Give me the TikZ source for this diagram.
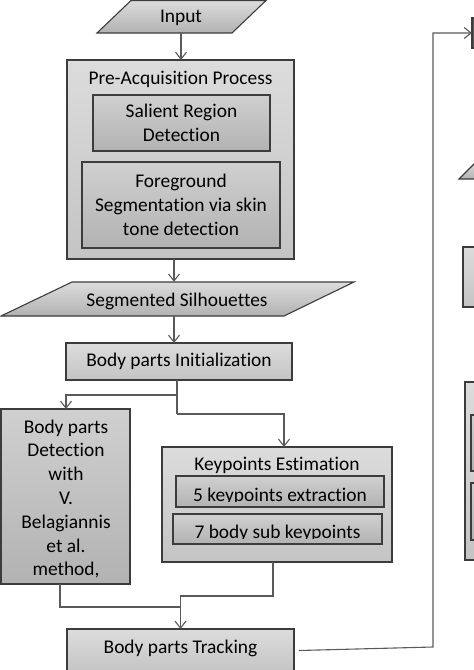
\documentclass[tikz,border=0pt]{standalone}
\usepackage{fontspec}
\setmainfont{Carlito}[Ligatures=NoCommon]
\usetikzlibrary{arrows.meta}
\definecolor{bordc}{HTML}{3C3C3C}
\definecolor{connc}{HTML}{5A5A5A}
\definecolor{otop}{HTML}{DCDCDC}
\definecolor{obot}{HTML}{C4C4C4}
\definecolor{itop}{HTML}{D0D0D0}
\definecolor{ibot}{HTML}{B2B2B2}
\definecolor{darkc}{HTML}{5C5C5C}
\newcommand{\lbfont}{\fontsize{19.4}{23.8}\selectfont}
\tikzset{
  outerbox/.style={draw=bordc, line width=1.1pt, top color=otop, bottom color=obot, inner sep=0pt, outer sep=0pt},
  innerbox/.style={draw=bordc, line width=1.1pt, top color=itop, bottom color=ibot, inner sep=0pt, outer sep=0pt},
  para/.style={draw=bordc, line width=1.1pt, top color=otop, bottom color=ibot},
  conn/.style={draw=connc, line width=1.1pt},
  arr/.style={conn, -{Straight Barb[length=7pt,width=11pt,line width=1.1pt]}},
  lbl/.style={font=\lbfont, text=black, align=center, inner sep=0pt},
}
\begin{document}
\begin{tikzpicture}[x=1pt,y=-1pt]
\useasboundingbox (0,0) rectangle (474,670);
\begin{scope}
\clip (0,0) rectangle (474,670);
% Input parallelogram
\draw[para] (131,0.5) -- (266,0.5) -- (232,33) -- (97,33) -- cycle;
\node[lbl, minimum height=33pt, minimum width=100pt] (inp) at (181,16.5) {};
\node[lbl] at (181,18) {Input};
% Pre-acquisition
\node[outerbox, minimum width=227pt, minimum height=199pt] (pre) at (180.5,159.5) {};
\node[lbl] (pretitle) at (180.5,79) {Pre-Acquisition Process};
\node[innerbox, minimum width=177pt, minimum height=56pt, lbl] (sal) at (181.5,123) {Salient Region\\Detection};
\node[innerbox, minimum width=198pt, minimum height=86pt, lbl] (fg) at (181,205) {Foreground\\Segmentation via skin\\tone detection};
% Segmented silhouettes
\draw[para] (72,282) -- (354,282) -- (284,316) -- (1,316) -- cycle;
\node[lbl, minimum height=34pt, minimum width=200pt] (seg) at (174,299) {};
\node[lbl] at (177,301) {Segmented Silhouettes};
% Init
\node[outerbox, minimum width=226pt, minimum height=37pt, lbl] (init) at (179,361.5) {Body parts Initialization};
% Detection
\node[innerbox, minimum width=129pt, minimum height=175pt] (det) at (65.5,496.5) {};
\node[lbl] at (66,499) {Body parts\\Detection\\with\\V.\\Belagiannis\\et al.\\method,};
% Keypoints
\node[outerbox, minimum width=230pt, minimum height=115pt] (kp) at (277,504.5) {};
\node[lbl] (kptitle) at (277,465) {Keypoints Estimation};
\node[innerbox, minimum width=208pt, minimum height=31pt] (kp1) at (280,491.5) {};
\node[innerbox, minimum width=209pt, minimum height=30pt] (kp2) at (277.5,529) {};
\begin{scope}
\clip (176,476) rectangle (384,501.5);
\node[lbl, anchor=base] at (280,501) {5 keypoints extraction};
\end{scope}
\begin{scope}
\clip (173,514) rectangle (382,538.5);
\node[lbl, anchor=base] at (277.5,538) {7 body sub keypoints};
\end{scope}
% Tracking
\node[outerbox, minimum width=227pt, minimum height=43pt] (track) at (180.5,650.5) {};
\node[lbl] at (180.5,648) {Body parts Tracking};
% right-side partial shapes
\node[draw=bordc, fill=darkc, line width=1.1pt, minimum width=20pt, minimum height=30pt, inner sep=0pt, outer sep=0pt, anchor=west] (rbox) at (472,33) {};
\draw[para] (459,179) -- (476,162) -- (520,162) -- (520,179) -- cycle;
\node[outerbox, minimum width=60pt, minimum height=60pt, anchor=north west] (rb2) at (463,247) {};
\node[outerbox, minimum width=60pt, minimum height=178pt, anchor=north west] (rb3) at (465,382) {};
\node[innerbox, minimum width=50pt, minimum height=56pt, anchor=north west] (rb3a) at (471,415) {};
\node[innerbox, minimum width=50pt, minimum height=57pt, anchor=north west] (rb3b) at (471,483) {};
% connectors
\draw[arr] (inp.south) -- (inp.south |- pre.north);
\draw[arr] ([xshift=-6.5pt]pre.south) -- ([xshift=-6.5pt]pre.south |- seg.north);
\draw[arr] (seg.south) -- (seg.south |- init.north);
\draw[conn] ([xshift=-2pt]init.south) -- ++(0,34) coordinate (kb);
\draw[arr] ([xshift=-2pt]init.south) -- ++(0,15) -| ([xshift=0.5pt]det.north);
\draw[arr] (kb) -| ([xshift=7pt]kp.north);
\coordinate (j) at (180.5,607);
\draw[conn] ([xshift=-5.5pt]det.south) |- (j);
\draw[arr] ([xshift=-4pt]kp.south) |- (180.5,596) -- (track.north);
\draw[arr] ([xshift=5pt]track.east) -- (433,647) -- (433,33) -- (rbox.west);
\end{scope}
\end{tikzpicture}
\end{document}
